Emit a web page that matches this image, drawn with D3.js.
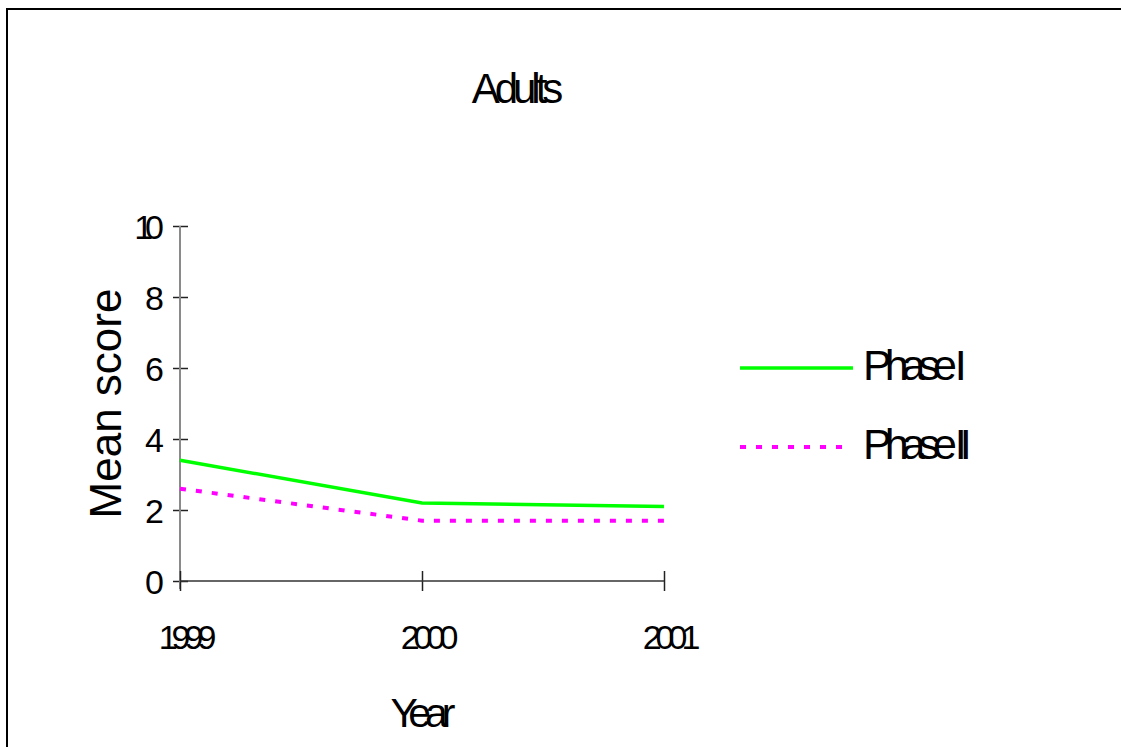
<!DOCTYPE html>
<html>
<head>
<meta charset="utf-8">
<script src="https://cdn.jsdelivr.net/npm/d3@7"></script>
<style>
  html, body { margin: 0; padding: 0; background: #fff; }
  svg { display: block; font-family: "Liberation Sans", Arial, sans-serif; }
</style>
</head>
<body>
<svg id="chart" width="1121" height="747"></svg>
<script>
// Mean score of adults per year, two phases
const years = ["1999", "2000", "2001"];
const phaseI = [3.4, 2.2, 2.1];
const phaseII = [2.6, 1.7, 1.7];
const yTicks = [0, 2, 4, 6, 8, 10];
const seriesNames = ["Phase I", "Phase II"];
const seriesColors = ["#00ff00", "#ff00ff"];

const svg = d3.select("#chart");

// outer frame (top and left edges)
svg.append("path")
  .attr("d", "M7,747 V9 H1121")
  .attr("fill", "none")
  .attr("stroke", "#000")
  .attr("stroke-width", 2);

const x = d3.scalePoint().domain(years).range([180, 664]);
const y = d3.scaleLinear().domain([0, 10]).range([581, 226]);

// title
svg.append("text")
  .attr("x", 515).attr("y", 103)
  .attr("text-anchor", "middle")
  .attr("font-size", 42)
  .attr("letter-spacing", -5)
  .text("Adults");

// y axis
const yAxis = svg.append("g")
  .attr("transform", "translate(180,0)")
  .call(d3.axisLeft(y).tickValues(yTicks).tickSize(8).tickPadding(0).tickFormat(d3.format("d")));
yAxis.select(".domain").remove();
yAxis.append("line")
  .attr("x1", 0).attr("x2", 0)
  .attr("y1", y(10)).attr("y2", y(0) + 8)
  .attr("stroke", "#8a8a8a").attr("stroke-width", 2);
yAxis.selectAll(".tick line")
  .attr("x1", -7).attr("x2", 8)
  .attr("stroke", "#222").attr("stroke-width", 1.5);
yAxis.selectAll(".tick text")
  .attr("x", -24)
  .attr("dy", "0.36em")
  .attr("fill", "#000")
  .attr("font-size", 34)
  .attr("letter-spacing", -8)
  .attr("font-family", "Liberation Sans, Arial, sans-serif");

// x axis
const xAxis = svg.append("g")
  .attr("transform", `translate(0,${y(0)})`)
  .call(d3.axisBottom(x).tickSize(10).tickPadding(0));
xAxis.select(".domain").remove();
xAxis.append("line")
  .attr("x1", 180).attr("x2", 664)
  .attr("stroke", "#333").attr("stroke-width", 1.5);
xAxis.selectAll(".tick line")
  .attr("y1", -10).attr("y2", 10)
  .attr("stroke", "#222").attr("stroke-width", 1.5);
xAxis.selectAll(".tick text")
  .attr("y", 68)
  .attr("dy", 0)
  .attr("dx", 4)
  .attr("fill", "#000")
  .attr("font-size", 34)
  .attr("letter-spacing", -6)
  .attr("font-family", "Liberation Sans, Arial, sans-serif");

// axis titles
svg.append("text")
  .attr("x", 420).attr("y", 727)
  .attr("text-anchor", "middle")
  .attr("font-size", 41)
  .attr("letter-spacing", -6)
  .text("Year");

svg.append("text")
  .attr("transform", `translate(121,${(y(0) + y(10)) / 2}) rotate(-90)`)
  .attr("text-anchor", "middle")
  .attr("font-size", 44)
  .text("Mean score");

// series lines
const line = d3.line()
  .x((d, i) => x(years[i]))
  .y(d => y(d));

svg.append("path")
  .datum(phaseI)
  .attr("d", line)
  .attr("fill", "none")
  .attr("stroke", seriesColors[0])
  .attr("stroke-width", 3.5);

svg.append("path")
  .datum(phaseII)
  .attr("d", line)
  .attr("fill", "none")
  .attr("stroke", seriesColors[1])
  .attr("stroke-width", 4)
  .attr("stroke-dasharray", "6,10");

// legend
const legend = svg.append("g");
const legendY = [368, 447];
seriesNames.forEach((name, i) => {
  legend.append("line")
    .attr("x1", 740).attr("x2", i === 0 ? 853 : 846)
    .attr("y1", legendY[i]).attr("y2", legendY[i])
    .attr("stroke", seriesColors[i])
    .attr("stroke-width", i === 0 ? 3.5 : 4)
    .attr("stroke-dasharray", i === 0 ? null : "6,10");
  legend.append("text")
    .attr("x", 863).attr("y", legendY[i] + 12)
    .attr("font-size", 43)
    .attr("letter-spacing", -7)
    .text(name);
});
</script>
</body>
</html>
